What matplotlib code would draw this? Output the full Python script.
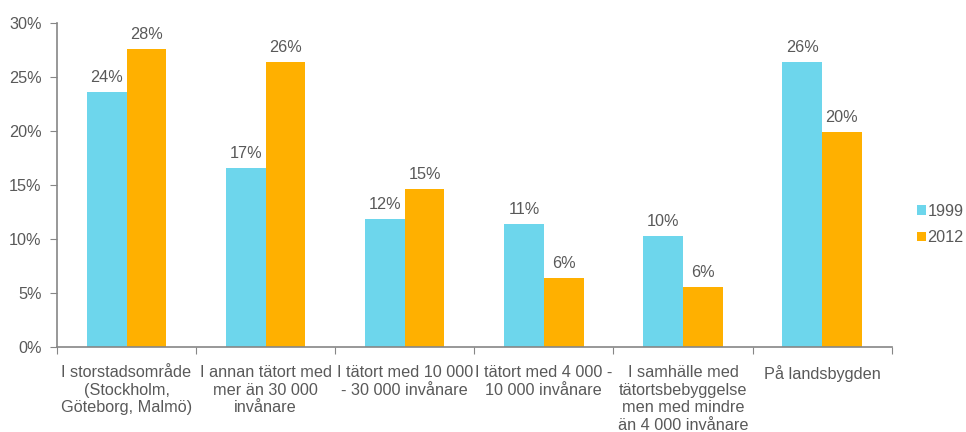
import matplotlib.pyplot as plt
import numpy as np

categories = ['I storstadsområde\n(Stockholm,\nGöteborg, Malmö)',
              'I annan tätort med\nmer än 30 000\ninvånare',
              'I tätort med 10 000\n- 30 000 invånare',
              'I tätort med 4 000 -\n10 000 invånare',
              'I samhälle med\ntätortsbebyggelse\nmen med mindre\nän 4 000 invånare',
              'På landsbygden']
share_1999 = [23.6, 16.6, 11.9, 11.4, 10.3, 26.4]
share_2012 = [27.6, 26.4, 14.6, 6.4, 5.6, 19.9]
yticks = [0, 5, 10, 15, 20, 25, 30]

text_col = '#595959'
axis_col = '#868686'
c1999 = '#6dd6ec'
c2012 = '#ffb000'

def main():
	plt.rcParams['font.family'] = ['Liberation Sans', 'DejaVu Sans']
	plt.rcParams['font.size'] = 11.7

	fig = plt.figure(figsize = (9.66, 4.32), dpi = 100)
	ax = fig.add_axes([0.059, 0.196, 0.864, 0.751])

	x = np.arange(len(categories))
	w = 0.285
	b1 = ax.bar(x - w / 2, share_1999, w, color = c1999, label = '1999')
	b2 = ax.bar(x + w / 2, share_2012, w, color = c2012, label = '2012')
	for bars in (b1, b2):
		ax.bar_label(bars, fmt = lambda v: '{:.0f}%'.format(round(v)),
		             padding = 5, color = text_col)

	''' Axes styling. '''
	ax.set_xlim(-0.5, len(categories) - 0.5)
	ax.set_ylim(0, 30)
	ax.set_yticks(yticks)
	ax.set_yticklabels(['{}%'.format(t) for t in yticks], color = text_col)
	ax.set_xticks(np.arange(len(categories) + 1) - 0.5)
	ax.set_xticklabels([])
	ax.set_xticks(x, minor = True)
	ax.set_xticklabels(categories, minor = True, color = text_col,
	                   linespacing = 1.2, va = 'top')
	ax.tick_params(axis = 'x', which = 'major', length = 5, color = axis_col)
	ax.tick_params(axis = 'x', which = 'minor', length = 0, pad = 13)
	ax.tick_params(axis = 'y', length = 5, color = axis_col, pad = 6)
	for s in ('top', 'right'):
		ax.spines[s].set_visible(False)
	for s in ('left', 'bottom'):
		ax.spines[s].set_color(axis_col)
		ax.spines[s].set_linewidth(1.2)

	leg = fig.legend(loc = 'center left', bbox_to_anchor = (0.949, 0.48),
	                 frameon = False, handlelength = 0.55, handleheight = 0.55,
	                 handletextpad = 0.1, labelspacing = 0.7, borderpad = 0,
	                 borderaxespad = 0, fontsize = 11.7)
	for t in leg.get_texts():
		t.set_color(text_col)

	fig.savefig('out.png', dpi = 100)

if __name__ == '__main__':
	main()
